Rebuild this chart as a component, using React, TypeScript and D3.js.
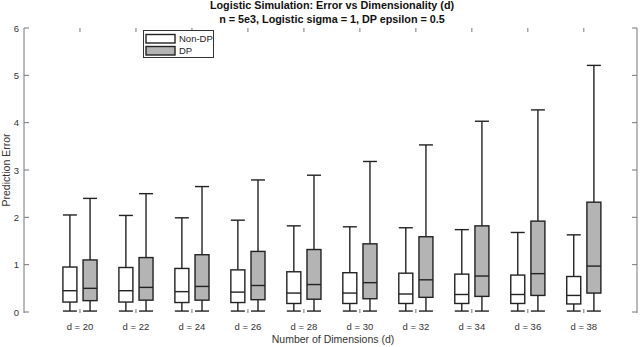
import * as d3 from 'd3';
import React from 'react';

// dimensions (d) on the x axis
const dims = [20, 22, 24, 26, 28, 30, 32, 34, 36, 38];

// Non-DP box stats
const nonDpHigh = [2.05, 2.04, 1.99, 1.94, 1.82, 1.80, 1.78, 1.74, 1.68, 1.63];
const nonDpQ3 = [0.95, 0.94, 0.92, 0.89, 0.85, 0.83, 0.82, 0.80, 0.78, 0.75];
const nonDpMed = [0.45, 0.45, 0.43, 0.42, 0.40, 0.40, 0.38, 0.37, 0.37, 0.35];
const nonDpQ1 = [0.21, 0.21, 0.20, 0.20, 0.18, 0.18, 0.18, 0.18, 0.18, 0.17];
const nonDpLow = [0.02, 0.02, 0.02, 0.02, 0.02, 0.02, 0.02, 0.02, 0.02, 0.02];

// DP box stats
const dpHigh = [2.40, 2.50, 2.65, 2.79, 2.89, 3.18, 3.53, 4.03, 4.27, 5.21];
const dpQ3 = [1.10, 1.15, 1.21, 1.28, 1.32, 1.44, 1.59, 1.82, 1.92, 2.32];
const dpMed = [0.50, 0.52, 0.54, 0.56, 0.58, 0.62, 0.68, 0.76, 0.81, 0.97];
const dpQ1 = [0.24, 0.25, 0.25, 0.26, 0.27, 0.28, 0.31, 0.33, 0.35, 0.40];
const dpLow = [0.02, 0.02, 0.02, 0.02, 0.02, 0.02, 0.02, 0.02, 0.02, 0.02];

const yTicks = [0, 1, 2, 3, 4, 5, 6];

const series = [
  { name: 'Non-DP', fill: '#ffffff', offset: -0.18, high: nonDpHigh, q3: nonDpQ3, med: nonDpMed, q1: nonDpQ1, low: nonDpLow },
  { name: 'DP', fill: '#b4b4b4', offset: 0.18, high: dpHigh, q3: dpQ3, med: dpMed, q1: dpQ1, low: dpLow },
];

export default function App() {
  const width = 640;
  const height = 347;
  const font = 'Liberation Sans, Arial, Helvetica, sans-serif';
  const ink = '#222';

  const x = d3.scaleLinear().domain([0, 10.95]).range([24, 637]);
  const y = d3.scaleLinear().domain([0, 6]).range([312, 28]);
  const halfW = 0.125;

  return (
    <svg width={width} height={height} style={{ position: 'absolute', left: 0, top: 0, background: '#fff' }} fontFamily={font}>
      <rect x={0} y={0} width={width} height={height} fill="#fff" />
      {/* title */}
      <text x={332} y={9} textAnchor="middle" fontSize={10.8} fontWeight="bold" fill="#111">
        Logistic Simulation: Error vs Dimensionality (d)
      </text>
      <text x={332} y={22.5} textAnchor="middle" fontSize={10.8} fontWeight="bold" fill="#111">
        n = 5e3, Logistic sigma = 1, DP epsilon = 0.5
      </text>

      {/* axes lines */}
      <line x1={x(0)} x2={x(0)} y1={y(6)} y2={y(0) + 1} stroke="#777" strokeWidth={1} />
      <line x1={x(10.95)} x2={x(10.95)} y1={y(6)} y2={y(0) + 1} stroke="#777" strokeWidth={1} />

      {/* y ticks */}
      {yTicks.map(t => (
        <g key={t}>
          <line x1={x(0)} x2={x(0) + 5} y1={y(t)} y2={y(t)} stroke="#777" />
          <line x1={x(10.95) - 5} x2={x(10.95)} y1={y(t)} y2={y(t)} stroke="#777" />
          <text x={19} y={y(t) + 3.5} textAnchor="end" fontSize={9.5} fill="#333">{t}</text>
        </g>
      ))}

      {/* x ticks + labels */}
      {dims.map((d, i) => (
        <g key={d}>
          <line x1={x(i + 1)} x2={x(i + 1)} y1={y(6)} y2={y(6) + 4} stroke="#777" />
          <line x1={x(i + 1)} x2={x(i + 1)} y1={y(0) + 1} y2={y(0) - 3} stroke="#777" />
          <text x={x(i + 1)} y={329.5} textAnchor="middle" fontSize={9.5} fill="#333">{`d = ${d}`}</text>
        </g>
      ))}

      {/* boxes */}
      {series.map(s => (
        <g key={s.name}>
          {dims.map((d, i) => {
            const c = i + 1 + s.offset;
            const x0 = x(c - halfW);
            const x1 = x(c + halfW);
            const xc = x(c);
            return (
              <g key={d} stroke={ink} strokeWidth={1.4}>
                <line x1={xc} x2={xc} y1={y(s.high[i])} y2={y(s.q3[i])} />
                <line x1={xc} x2={xc} y1={y(s.q1[i])} y2={y(s.low[i])} />
                <line x1={x0} x2={x1} y1={y(s.high[i])} y2={y(s.high[i])} />
                <line x1={x0} x2={x1} y1={y(s.low[i])} y2={y(s.low[i])} />
                <rect x={x0} y={y(s.q3[i])} width={x1 - x0} height={y(s.q1[i]) - y(s.q3[i])} fill={s.fill} />
                <line x1={x0} x2={x1} y1={y(s.med[i])} y2={y(s.med[i])} />
              </g>
            );
          })}
        </g>
      ))}

      {/* legend */}
      <g>
        <rect x={143.5} y={30.5} width={70} height={27} fill="#fff" stroke="#333" strokeWidth={1} />
        {series.map((s, i) => (
          <g key={s.name}>
            <rect x={146} y={34.5 + i * 12} width={29} height={8.5} fill={s.fill} stroke={ink} strokeWidth={1.4} />
            <text x={179} y={42 + i * 12} fontSize={9.5} fill="#222">{s.name}</text>
          </g>
        ))}
      </g>

      {/* axis labels */}
      <text transform={`translate(9.5,170) rotate(-90)`} textAnchor="middle" fontSize={10.5} fill="#333">
        Prediction Error
      </text>
      <text x={333} y={343} textAnchor="middle" fontSize={10.5} fill="#333">
        Number of Dimensions (d)
      </text>
    </svg>
  );
}
